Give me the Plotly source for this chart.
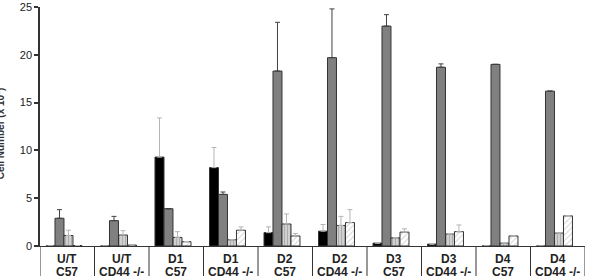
import plotly.graph_objects as go

categories = ["U/T<br>C57", "U/T<br>CD44 -/-", "D1<br>C57", "D1<br>CD44 -/-", "D2<br>C57",
              "D2<br>CD44 -/-", "D3<br>C57", "D3<br>CD44 -/-", "D4<br>C57", "D4<br>CD44 -/-"]
black_vals = [0.0, 0.0, 9.3, 8.2, 1.4, 1.55, 0.3, 0.2, 0.0, 0.0]
black_err = [0.0, 0.0, 4.1, 2.1, 0.6, 0.7, 0.0, 0.0, 0.0, 0.0]
grey_vals = [2.9, 2.65, 3.9, 5.4, 18.3, 19.7, 23.0, 18.7, 19.0, 16.2]
grey_err = [0.9, 0.45, 0.0, 0.25, 5.1, 5.1, 1.2, 0.35, 0.0, 0.0]
vstripe_vals = [1.1, 1.15, 0.9, 0.65, 2.3, 2.15, 0.85, 1.25, 0.3, 1.35]
vstripe_err = [0.55, 0.45, 0.6, 0.0, 1.05, 0.95, 0.0, 0.0, 0.0, 0.0]
diag_vals = [0.05, 0.1, 0.45, 1.65, 1.05, 2.45, 1.45, 1.5, 1.05, 3.15]
diag_err = [0.0, 0.0, 0.0, 0.35, 0.25, 1.35, 0.35, 0.7, 0.0, 0.0]
y_ticks = [0, 5, 10, 15, 20, 25]

idx = list(range(len(categories)))
bar_w = 0.165
start = -0.39
font = "Liberation Sans, Arial, sans-serif"

series = [
    (black_vals, black_err, dict(color="black"), "#b5b5b5"),
    (grey_vals, grey_err, dict(color="#808080"), "#404040"),
    (vstripe_vals, vstripe_err, dict(color="#c4c4c4",
        pattern=dict(shape="|", fgcolor="#8a8a8a", bgcolor="#d0d0d0", size=3, solidity=0.35)), "#b5b5b5"),
    (diag_vals, diag_err, dict(color="white",
        pattern=dict(shape="/", fgcolor="#a8a8a8", bgcolor="white", size=4, solidity=0.25)), "#b5b5b5"),
]

fig = go.Figure()
for k, (vals, errs, mk, ecol) in enumerate(series):
    fig.add_trace(go.Bar(
        x=idx, y=vals, width=bar_w, offset=start + k * bar_w,
        marker=dict(line=dict(color="#333333", width=1), **mk),
        error_y=dict(type="data", array=errs, arrayminus=[0] * len(errs), symmetric=False,
                     color=ecol, thickness=1, width=2.5),
        showlegend=False,
    ))

for i in range(len(categories) + 1):
    fig.add_shape(type="line", xref="x", yref="paper", x0=i - 0.5, x1=i - 0.5, y0=0, y1=-0.2,
                  line=dict(color="#333333", width=1))

for i, c in enumerate(categories):
    for j, part in enumerate(c.split("<br>")):
        fig.add_annotation(text="<b>" + part + "</b>", xref="x", yref="paper", x=i, y=0,
                           xanchor="center", yanchor="middle", yshift=-13 - 13 * j,
                           showarrow=False, font=dict(family=font, size=12, color="#222"))

fig.add_annotation(text="<b>Cell Number (x 10<sup>6</sup>)</b>", xref="paper", yref="paper",
                   x=-0.074, y=0.47, xanchor="center", yanchor="middle", textangle=-90,
                   showarrow=False, font=dict(family=font, size=10, color="#333"))

fig.update_layout(
    width=592, height=276, margin=dict(l=40, r=7, t=7, b=30, autoexpand=False),
    paper_bgcolor="white", plot_bgcolor="white", barmode="overlay",
    font=dict(family=font, color="#222"),
    xaxis=dict(range=[-0.5, 9.5], tickvals=idx, showticklabels=False, automargin=False,
               showline=True, linecolor="#333",
               linewidth=1, ticks="", showgrid=False, zeroline=False),
    yaxis=dict(range=[0, 25], tickvals=y_ticks, automargin=False, showline=True, linecolor="#333",
               linewidth=1.5, ticks="outside", ticklen=4, tickcolor="#333", tickwidth=1.5,
               tickfont=dict(size=11, family=font, color="#222"), showgrid=False, zeroline=False,
               tickprefix="<b>", ticksuffix="</b>"),
)
fig.write_html("out.html")
